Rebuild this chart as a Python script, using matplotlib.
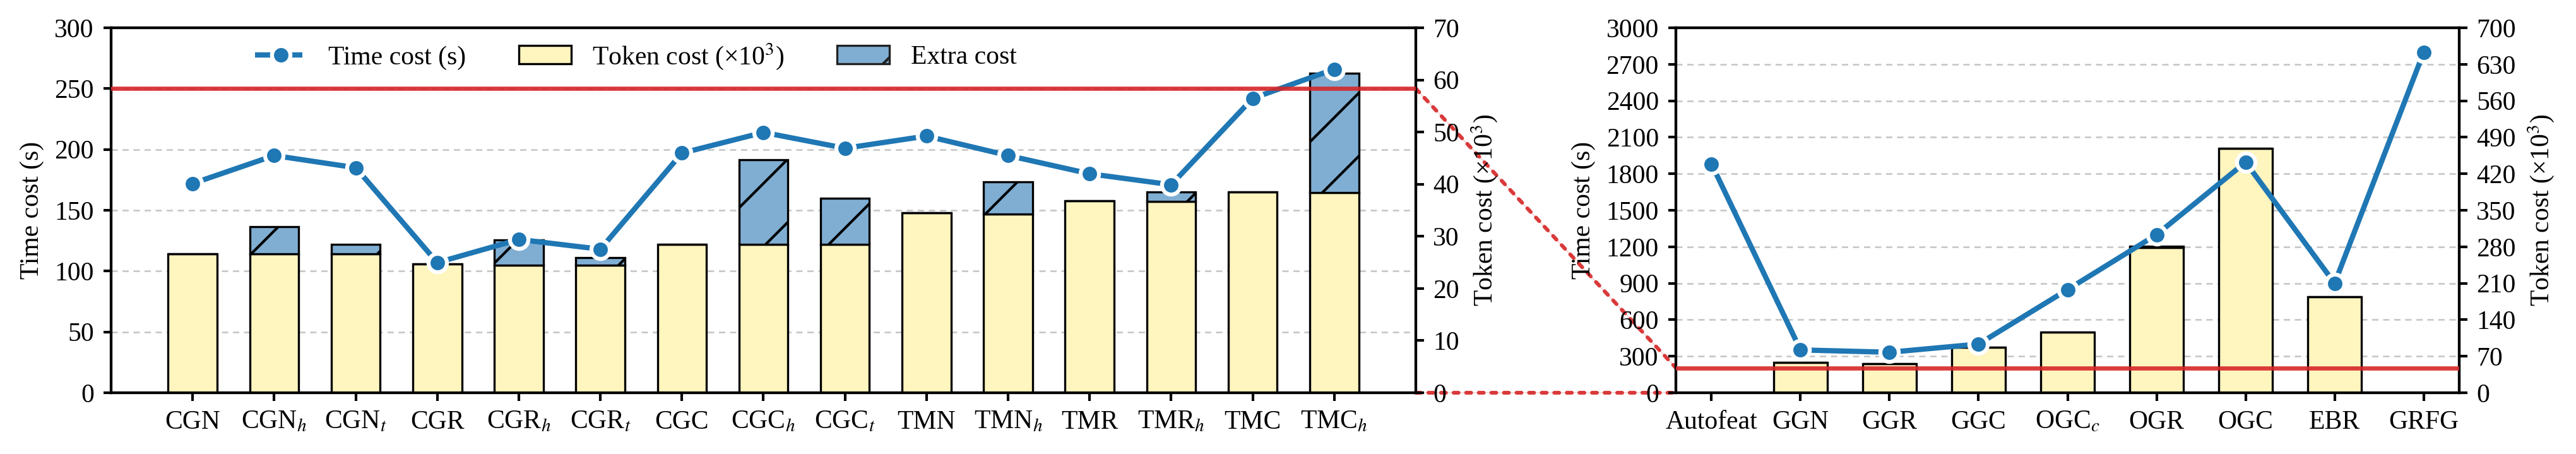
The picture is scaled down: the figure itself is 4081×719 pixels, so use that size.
import numpy as np
import matplotlib
matplotlib.use("Agg")
import matplotlib.pyplot as plt
from matplotlib.lines import Line2D
from matplotlib.patches import Patch, ConnectionPatch

plt.rcParams['font.family'] = 'serif'
plt.rcParams['font.serif'] = ['Liberation Serif', 'DejaVu Serif']
plt.rcParams['mathtext.fontset'] = 'stix'
plt.rcParams['font.size'] = 10

# ---- data: left panel ----
left_labels = ["CGN", "CGN$_h$", "CGN$_t$", "CGR", "CGR$_h$", "CGR$_t$", "CGC", "CGC$_h$", "CGC$_t$",
               "TMN", "TMN$_h$", "TMR", "TMR$_h$", "TMC", "TMC$_h$"]
left_time = [172, 195, 185, 107, 126, 118, 197, 214, 201, 211, 195, 180, 171, 242, 266]
left_token = [26.6, 26.6, 26.6, 24.7, 24.5, 24.5, 28.4, 28.4, 28.4, 34.5, 34.3, 36.8, 36.7, 38.5, 38.4]
left_extra = [0, 5.2, 1.9, 0, 4.8, 1.4, 0, 16.3, 8.9, 0, 6.2, 0, 1.8, 0, 22.9]

# ---- data: right panel ----
right_labels = ["Autofeat", "GGN", "GGR", "GGC", "OGC$_c$", "OGR", "OGC", "EBR", "GRFG"]
right_time = [1881, 352, 333, 400, 848, 1300, 1895, 900, 2797]
right_token = [0, 58, 56, 87, 116, 278, 469, 184, 0]
right_extra = [0, 0, 0, 0, 0, 3, 0, 0, 0]

line_c = '#1f77b4'
red_c = '#d62728'
yellow = '#fff5be'
extra_c = '#80aed3'

W, H = 4081, 719
fig = plt.figure(figsize=(W / 300, H / 300), dpi=300)

def rect(x0, x1):
    return [x0 / W, 1 - 622 / H, (x1 - x0) / W, (622 - 44) / H]

def style(ax):
    for s in ax.spines.values():
        s.set_linewidth(1.0)
    ax.tick_params(direction='out', length=3, width=1.0, labelsize=10)

def panel(r, labels, time, token, extra, tmax, tstep, kmax, kstep, xlim, red_y):
    x = np.arange(len(labels))
    ax = fig.add_axes(r)
    ax.set_zorder(1)
    ax.set_ylim(0, tmax)
    ax.set_yticks(np.arange(0, tmax + 1, tstep))
    ax.yaxis.grid(True, linestyle=(0, (4, 3)), color='#c4c4c4', linewidth=0.6)
    ax.set_axisbelow(True)
    ax.set_ylabel("Time cost (s)")
    ax.set_xlim(*xlim)
    ax.set_xticks(x)
    ax.set_xticklabels(labels)
    style(ax)

    axt = ax.twinx()
    axt.set_zorder(2)
    axt.patch.set_visible(False)
    axt.bar(x, token, width=0.6, color=yellow, edgecolor='black', linewidth=0.8)
    axt.bar(x, extra, width=0.6, bottom=token, color=extra_c, edgecolor='black',
            linewidth=0.8, hatch='/')
    axt.set_ylim(0, kmax)
    axt.set_yticks(np.arange(0, kmax + 1, kstep))
    axt.set_ylabel("Token cost (×10$^3$)")
    style(axt)

    axl = fig.add_axes(r, sharex=ax, sharey=ax)
    axl.set_zorder(3)
    axl.patch.set_visible(False)
    axl.axis('off')
    axl.plot(x, time, color=line_c, linewidth=2.0, marker='o', markersize=7,
             markeredgecolor='white', markeredgewidth=1.5)
    axl.axhline(red_y, color=red_c, linewidth=1.6, alpha=0.9)
    return ax, axl

ax1, l1 = panel(rect(176, 2243), left_labels, left_time, left_token, left_extra,
                300, 50, 70, 10, (-1, 15), 250)
ax2, l2 = panel(rect(2655, 3896), right_labels, right_time, right_token, right_extra,
                3000, 300, 700, 70, (-0.4, 8.4), 205)

handles = [Line2D([], [], color=line_c, linewidth=2.0, linestyle='--', marker='o', markersize=7,
                  markeredgecolor='white', markeredgewidth=1.5),
           Patch(facecolor=yellow, edgecolor='black', linewidth=0.8),
           Patch(facecolor=extra_c, edgecolor='#222222', linewidth=0.8, hatch='/')]
l1.legend(handles, ["Time cost (s)", "Token cost (×10$^3$)", "Extra cost"], ncol=3,
          loc='center left', bbox_to_anchor=(0.092, 0.922), frameon=False,
          columnspacing=2.0, fontsize=10)

# zoom connectors between panels
for ya, yb in [(250, 205), (0, 0)]:
    for ls, lw, a in [((0, (1.3, 2.0)), 1.45, 0.9), ('-', 0.4, 0.2)]:
        con = ConnectionPatch(xyA=(1, ya), coordsA=l1.get_yaxis_transform(),
                              xyB=(0, yb), coordsB=l2.get_yaxis_transform(),
                              color=red_c, linestyle=ls, linewidth=lw, alpha=a)
        fig.add_artist(con)

fig.savefig("out.png", dpi=300)
